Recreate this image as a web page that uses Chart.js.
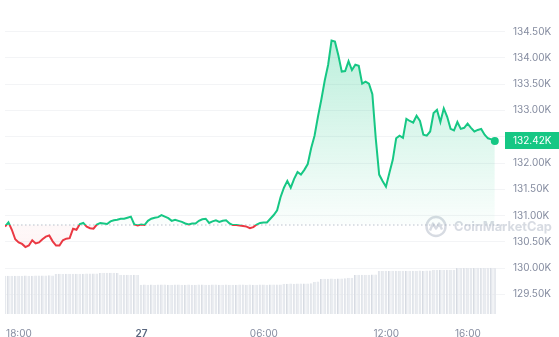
<!DOCTYPE html>
<html>
<head>
<meta charset="utf-8">
<title>BTC price 24h</title>
<script src="https://cdn.jsdelivr.net/npm/chart.js@4.4.1/dist/chart.umd.min.js"></script>
<style>
    html, body { margin: 0; padding: 0; background: #ffffff; }
    #wrap { width: 559px; height: 337px; }
</style>
</head>
<body>
<div id="wrap"><canvas id="priceChart" width="559" height="337"></canvas></div>
<script>
// 24h window, one sample every 10 minutes, first sample at 17:19 on the 26th
const startHour = 17 + 19 / 60;
const stepHours = 10 / 60;
const openPrice = 130.83; // price 24h ago (dotted reference line), in K USD

// price in thousands of USD
const prices = [
    130.79, 130.87, 130.73, 130.55, 130.49, 130.46, 130.40, 130.43, 130.53, 130.47,
    130.49, 130.55, 130.60, 130.62, 130.51, 130.43, 130.43, 130.53, 130.56, 130.57,
    130.75, 130.73, 130.84, 130.86, 130.79, 130.76, 130.75, 130.83, 130.86, 130.85,
    130.84, 130.89, 130.91, 130.92, 130.94, 130.94, 130.96, 130.98, 130.83, 130.81,
    130.83, 130.82, 130.90, 130.94, 130.96, 130.97, 131.01, 130.98, 130.95, 130.90,
    130.92, 130.90, 130.88, 130.85, 130.83, 130.85, 130.85, 130.90, 130.93, 130.94,
    130.86, 130.89, 130.91, 130.88, 130.90, 130.91, 130.85, 130.82, 130.82, 130.81,
    130.80, 130.79, 130.76, 130.78, 130.83, 130.86, 130.87, 130.87, 130.94, 131.01,
    131.10, 131.35, 131.53, 131.66, 131.53, 131.70, 131.83, 131.78, 131.87, 131.98,
    132.28, 132.52, 132.88, 133.21, 133.57, 133.87, 134.33, 134.31, 134.05, 133.74,
    133.75, 133.94, 133.77, 133.87, 133.85, 133.51, 133.55, 133.51, 133.31, 132.47,
    131.78, 131.66, 131.55, 131.81, 132.06, 132.47, 132.52, 132.48, 132.84, 132.80,
    132.77, 132.90, 132.80, 132.54, 132.52, 132.60, 132.95, 133.01, 132.78, 133.04,
    132.88, 132.65, 132.62, 132.78, 132.65, 132.67, 132.75, 132.67, 132.60, 132.63,
    132.65, 132.54, 132.47, 132.45, 132.42
];

// volume in billions of USD
const volumes = [
    76.4, 76.6, 76.5, 76.7, 76.5, 76.6, 76.8, 76.6, 76.7, 76.9,
    77.0, 76.8, 77.1, 77.3, 77.2, 80.1, 80.3, 80.2, 80.5, 80.4,
    80.6, 80.4, 80.7, 80.5, 80.8, 80.9, 81.0, 81.2, 82.1, 82.4,
    82.3, 82.6, 82.5, 82.2, 78.6, 78.4, 78.5, 78.2, 78.3, 78.1,
    58.7, 58.9, 58.6, 58.8, 58.7, 58.9, 59.0, 58.8, 58.7, 58.6,
    58.8, 58.9, 58.7, 58.6, 58.8, 58.5, 58.7, 58.9, 58.8, 58.6,
    58.7, 58.8, 58.9, 58.7, 58.6, 58.8, 58.7, 58.5, 58.6, 58.8,
    58.9, 58.7, 58.8, 58.6, 58.7, 58.9, 58.8, 58.7, 58.9, 59.1,
    59.0, 59.2, 60.4, 60.6, 60.8, 60.7, 60.9, 61.0, 61.2, 61.1,
    61.4, 64.5, 65.0, 70.2, 70.5, 70.6, 70.8, 70.7, 71.0, 71.1,
    71.3, 72.4, 72.7, 78.2, 78.4, 78.5, 78.6, 78.5, 78.8, 79.0,
    86.0, 86.1, 86.3, 86.2, 86.4, 86.3, 86.5, 86.6, 86.4, 86.5,
    86.7, 86.6, 86.8, 86.7, 86.9, 87.0, 88.0, 88.2, 88.3, 88.1,
    88.4, 88.3, 88.5, 91.8, 92.0, 92.1, 91.9, 92.2, 92.1, 92.3,
    92.2, 92.0, 92.1, 92.3, 92.2
];

// axis ticks (hours counted from 00:00 on the 26th)
const xTickHours = [18, 24, 30, 36, 40];
const xTickLabels = ['18:00', '27', '06:00', '12:00', '16:00'];
const yTicks = [129.5, 130, 130.5, 131, 131.5, 132, 132.5, 133, 133.5, 134, 134.5];

const colorUp = '#16c784';
const colorDown = '#ea3943';
const labelGray = '#858ca0';

const pricePoints = prices.map((p, i) => ({ x: startHour + i * stepHours, y: p }));
const volumePoints = volumes.map((v, i) => ({ x: startHour + i * stepHours, y: v }));

/**
 * Vertical gradient with a hard switch at the open price
 */
function splitGradient(chart, topColors, bottomColors) {
    const area = chart.chartArea;
    const yScale = chart.scales.y;
    if (!area || !yScale) return topColors[0];
    const base = yScale.getPixelForValue(openPrice);
    let stop = (base - area.top) / (area.bottom - area.top);
    stop = Math.min(1, Math.max(0, stop));
    const g = chart.ctx.createLinearGradient(0, area.top, 0, area.bottom);
    g.addColorStop(0, topColors[0]);
    g.addColorStop(stop, topColors[1]);
    g.addColorStop(stop, bottomColors[0]);
    g.addColorStop(1, bottomColors[1]);
    return g;
}

// dotted open-price line and CoinMarketCap watermark
const backdropPlugin = {
    id: 'backdrop',
    beforeDatasetsDraw(chart) {
        const { ctx, chartArea } = chart;
        const base = chart.scales.y.getPixelForValue(openPrice);
        ctx.save();
        ctx.strokeStyle = '#b9c0cc';
        ctx.lineWidth = 1;
        ctx.setLineDash([1.5, 2.5]);
        ctx.beginPath();
        ctx.moveTo(chartArea.left, base + 0.5);
        ctx.lineTo(chartArea.right, base + 0.5);
        ctx.stroke();
        ctx.restore();

        // watermark
        const cx = chartArea.right - 69;
        const cy = base + 2;
        ctx.save();
        ctx.strokeStyle = 'rgba(150, 160, 178, 0.38)';
        ctx.lineWidth = 2.4;
        ctx.lineJoin = 'round';
        ctx.beginPath();
        ctx.arc(cx, cy, 9.5, 0, Math.PI * 2);
        ctx.stroke();
        ctx.beginPath();
        ctx.moveTo(cx - 6, cy + 4);
        ctx.lineTo(cx - 3, cy - 3);
        ctx.lineTo(cx, cy + 2);
        ctx.lineTo(cx + 3, cy - 3);
        ctx.lineTo(cx + 6, cy + 3);
        ctx.stroke();

        const text = 'CoinMarketCap';
        ctx.font = 'bold 14px Inter, sans-serif';
        const size = 14 * 98 / ctx.measureText(text).width;
        ctx.font = 'bold ' + size.toFixed(1) + 'px Inter, sans-serif';
        ctx.fillStyle = 'rgba(150, 160, 178, 0.38)';
        ctx.textBaseline = 'middle';
        ctx.fillText(text, cx + 18, cy + 1);
        ctx.restore();
    }
};

// current price tag on the right axis
const priceTagPlugin = {
    id: 'priceTag',
    afterDraw(chart) {
        const { ctx, chartArea } = chart;
        const last = prices[prices.length - 1];
        const y = chart.scales.y.getPixelForValue(last);
        ctx.save();
        ctx.fillStyle = colorUp;
        ctx.fillRect(chartArea.right, Math.round(y - 8.5), chart.width - chartArea.right, 17);
        ctx.fillStyle = '#ffffff';
        ctx.font = '10px Inter, sans-serif';
        ctx.textBaseline = 'middle';
        ctx.fillText(last.toFixed(2) + 'K', chartArea.right + 8, y);
        ctx.restore();
    }
};

new Chart(document.getElementById('priceChart'), {
    type: 'line',
    data: {
        datasets: [
            {
                type: 'line',
                label: 'Price',
                data: pricePoints,
                yAxisID: 'y',
                order: 0,
                borderWidth: 2,
                tension: 0,
                borderColor: (c) => splitGradient(c.chart, [colorUp, colorUp], [colorDown, colorDown]),
                backgroundColor: (c) => splitGradient(c.chart,
                    ['rgba(22, 199, 132, 0.32)', 'rgba(22, 199, 132, 0.02)'],
                    ['rgba(234, 57, 67, 0.03)', 'rgba(234, 57, 67, 0.12)']),
                fill: { target: { value: openPrice } },
                pointRadius: (c) => c.dataIndex === prices.length - 1 ? 4 : 0,
                pointBackgroundColor: colorUp,
                pointBorderColor: colorUp,
                pointBorderWidth: 0
            },
            {
                type: 'bar',
                label: 'Volume',
                data: volumePoints,
                yAxisID: 'yv',
                order: 1,
                backgroundColor: '#e6e9ee',
                borderColor: '#d7dbe2',
                borderWidth: { left: 1, right: 0, top: 0, bottom: 0 },
                barPercentage: 0.8,
                categoryPercentage: 1
            }
        ]
    },
    options: {
        responsive: false,
        animation: false,
        layout: { padding: { top: 8, left: 0, right: 0, bottom: 0 } },
        plugins: {
            legend: { display: false },
            tooltip: { enabled: false }
        },
        scales: {
            x: {
                type: 'linear',
                offset: false,
                min: startHour,
                max: startHour + 24.5,
                grid: { display: false },
                border: { display: false },
                afterBuildTicks: (scale) => {
                    scale.ticks = xTickHours.map(v => ({ value: v }));
                },
                afterFit: (scale) => { scale.height = 23; },
                ticks: {
                    autoSkip: false,
                    maxRotation: 0,
                    padding: 6,
                    color: (c) => c.tick && c.tick.value === 24 ? '#58667e' : labelGray,
                    font: (c) => ({
                        family: 'Inter, sans-serif',
                        size: 10,
                        weight: c.tick && c.tick.value === 24 ? '600' : 'normal'
                    }),
                    callback: (value) => xTickLabels[xTickHours.indexOf(value)]
                }
            },
            y: {
                position: 'right',
                min: 129.127,
                max: 134.836,
                grid: { color: '#f3f4f6', drawTicks: false },
                border: { display: false },
                afterBuildTicks: (scale) => {
                    scale.ticks = yTicks.map(v => ({ value: v }));
                },
                afterFit: (scale) => { scale.width = 54; },
                ticks: {
                    padding: 8,
                    color: labelGray,
                    font: { family: 'Inter, sans-serif', size: 10 },
                    callback: (value) => value.toFixed(2) + 'K'
                }
            },
            yv: {
                display: false,
                min: 0,
                max: 600
            }
        }
    },
    plugins: [backdropPlugin, priceTagPlugin]
});
</script>
</body>
</html>
